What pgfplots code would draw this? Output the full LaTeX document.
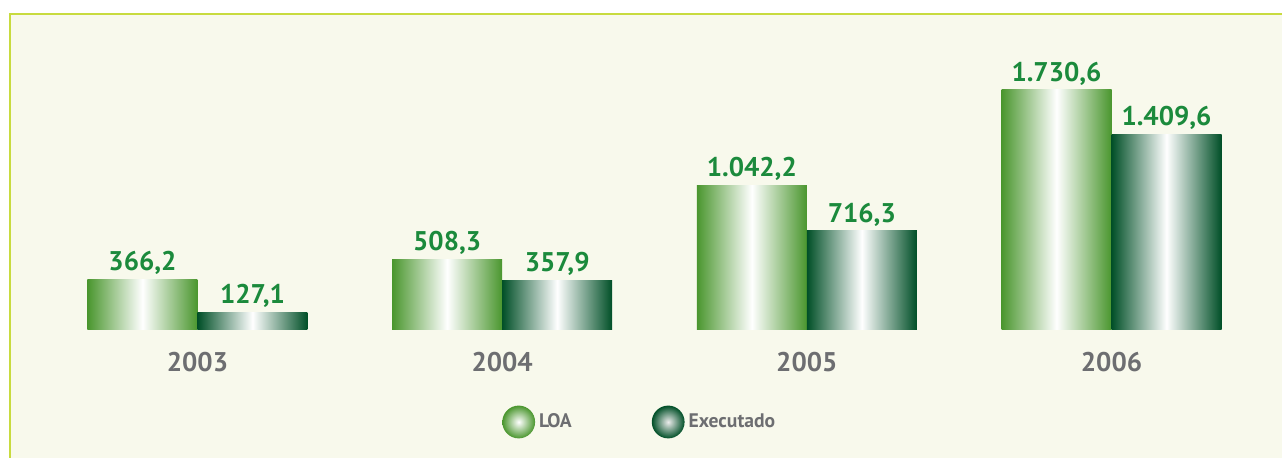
\documentclass[border=0pt]{standalone}
\usepackage{pgfplots}
\pgfplotsset{compat=1.18}
\usepackage{fontspec}
\setmainfont{PT Sans}
\definecolor{loa}{HTML}{4A962E}
\definecolor{exe}{HTML}{004F27}
\definecolor{valgreen}{HTML}{1B8A3C}
\definecolor{txtgray}{HTML}{6D6E71}
\definecolor{bg}{HTML}{F8F9EC}
\definecolor{bordercol}{HTML}{C8DB3F}
\pgfplotsset{
  loabar/.style={draw=none, bar shift=-27.5pt, left color=loa, right color=loa, middle color=white},
  exebar/.style={draw=none, bar shift=27.5pt, left color=exe, right color=exe, middle color=white},
}
\begin{document}
\begin{tikzpicture}[x=0.5pt,y=0.5pt]
\path[use as bounding box] (0,0) rectangle (1282,458);
\fill[white] (0,0) rectangle (1282,458);
\fill[bg] (10,0) rectangle (1282,444);
\draw[bordercol, line width=1.1pt] (10,0) -- (10,444) -- (1282,444);
\begin{axis}[
  at={(0,0)}, anchor=south west,
  scale only axis, width=641pt, height=229pt,
  xmin=-0.6482, xmax=3.5596, ymin=-923, ymax=2379.6,
  hide axis,
  ybar=0pt, bar width=55pt,
  nodes near coords,
  /pgf/number format/assume math mode=true,
  /pgf/number format/.cd, use comma, 1000 sep={.}, fixed, fixed zerofill, precision=1,
  /pgfplots/.cd,
  every node near coord/.append style={anchor=base, inner sep=0pt, yshift=4.3pt,
     font=\fontsize{13.5}{16}\selectfont\bfseries, text=valgreen},
  legend columns=2,
  legend style={at={(0.3915,0.0786)}, anchor=west, draw=none, fill=none, inner sep=0pt,
     font=\fontsize{9.8}{11}\selectfont\bfseries, text=txtgray,
     /tikz/every even column/.append style={column sep=38pt}},
]
\addplot[loabar,
  legend image code/.code={\shade[inner color=white, outer color=loa, draw=none] (8pt,0pt) circle (8.2pt);}]
  coordinates {(0,366.2)};
\addlegendentry{LOA}
\addplot[exebar,
  legend image code/.code={\shade[inner color=white!85!gray, outer color=exe, draw=none] (8pt,0pt) circle (8.2pt);}]
  coordinates {(0,127.1)};
\addlegendentry{Executado}
\addplot[loabar, forget plot] coordinates {(1,508.3)};
\addplot[exebar, forget plot] coordinates {(1,357.9)};
\addplot[loabar, forget plot] coordinates {(2,1042.2)};
\addplot[exebar, forget plot] coordinates {(2,716.3)};
\addplot[loabar, forget plot] coordinates {(3,1730.6)};
\addplot[exebar, forget plot] coordinates {(3,1409.6)};
\begin{scope}[every node/.style={font=\fontsize{13.5}{16}\selectfont\bfseries, text=txtgray}]
\node at (axis cs:0,-231) {2003};
\node at (axis cs:1,-231) {2004};
\node at (axis cs:2,-231) {2005};
\node at (axis cs:3,-231) {2006};
\end{scope}
\end{axis}
\end{tikzpicture}
\end{document}
